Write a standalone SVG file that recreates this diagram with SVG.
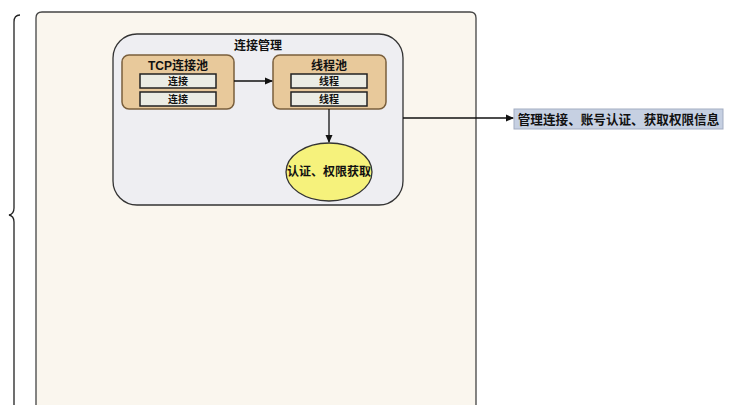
<svg xmlns="http://www.w3.org/2000/svg" width="729" height="405" viewBox="0 0 729 405">
<defs>
<style>
text{font-family:"Liberation Sans","Noto Sans CJK SC",sans-serif;font-weight:bold;fill:#111;text-anchor:middle}
.pool{fill:#e8c99b;stroke:#7a5f3c;stroke-width:1.5}
.item{fill:#ebece4;stroke:#222;stroke-width:1.5}
.conn{stroke:#111;stroke-width:1.3;fill:none}
</style>
<marker id="ah" markerWidth="8" markerHeight="8" refX="7" refY="4" orient="auto" markerUnits="userSpaceOnUse">
<path d="M0,0.5 L8,4 L0,7.5 Z" fill="#111"/>
</marker>
</defs>
<rect width="729" height="405" fill="#ffffff"/>
<g id="brace">
<path d="M20,15 Q14,15 14,22 L14,208 Q14,214 9,215 Q14,216 14,222 L14,405" fill="none" stroke="#222" stroke-width="1.3"/>
</g>
<g id="outer">
<path d="M36,410 L36,18 Q36,12 42,12 L470,12 Q476,12 476,18 L476,410" fill="#faf6ee" stroke="#444" stroke-width="1.3"/>
</g>
<g id="conn-mgmt">
<rect x="113" y="34" width="290" height="171" rx="24" fill="#eeeef2" stroke="#333" stroke-width="1.3"/>
<text x="258" y="50" font-size="12">连接管理</text>
</g>
<g id="tcp-pool">
<rect class="pool" x="122" y="55" width="112" height="54" rx="7"/>
<text x="178" y="70" font-size="12">TCP连接池</text>
<rect class="item" x="140" y="74" width="76" height="14"/>
<text x="178" y="85" font-size="10" font-weight="normal">连接</text>
<rect class="item" x="140" y="92" width="76" height="14"/>
<text x="178" y="103" font-size="10" font-weight="normal">连接</text>
</g>
<g id="thread-pool">
<rect class="pool" x="273" y="55" width="113" height="54" rx="7"/>
<text x="329" y="70" font-size="12">线程池</text>
<rect class="item" x="291" y="74" width="76" height="14"/>
<text x="329" y="85" font-size="10" font-weight="normal">线程</text>
<rect class="item" x="291" y="92" width="76" height="14"/>
<text x="329" y="103" font-size="10" font-weight="normal">线程</text>
</g>
<g id="auth">
<ellipse cx="329" cy="172" rx="43" ry="29" fill="#f6f27c" stroke="#333" stroke-width="1.3"/>
<text x="329" y="176" font-size="12">认证、权限获取</text>
</g>
<g id="label">
<rect x="514" y="109" width="209" height="20" fill="#c6d0e2" stroke="#a3adc2" stroke-width="1"/>
<text x="618.5" y="123.5" font-size="12.6">管理连接、账号认证、获取权限信息</text>
</g>
<g id="connectors">
<line class="conn" x1="234" y1="81" x2="272" y2="81" marker-end="url(#ah)"/>
<line class="conn" x1="329" y1="109" x2="329" y2="142" marker-end="url(#ah)"/>
<line class="conn" x1="403" y1="118" x2="513" y2="118" marker-end="url(#ah)"/>
</g>
</svg>
